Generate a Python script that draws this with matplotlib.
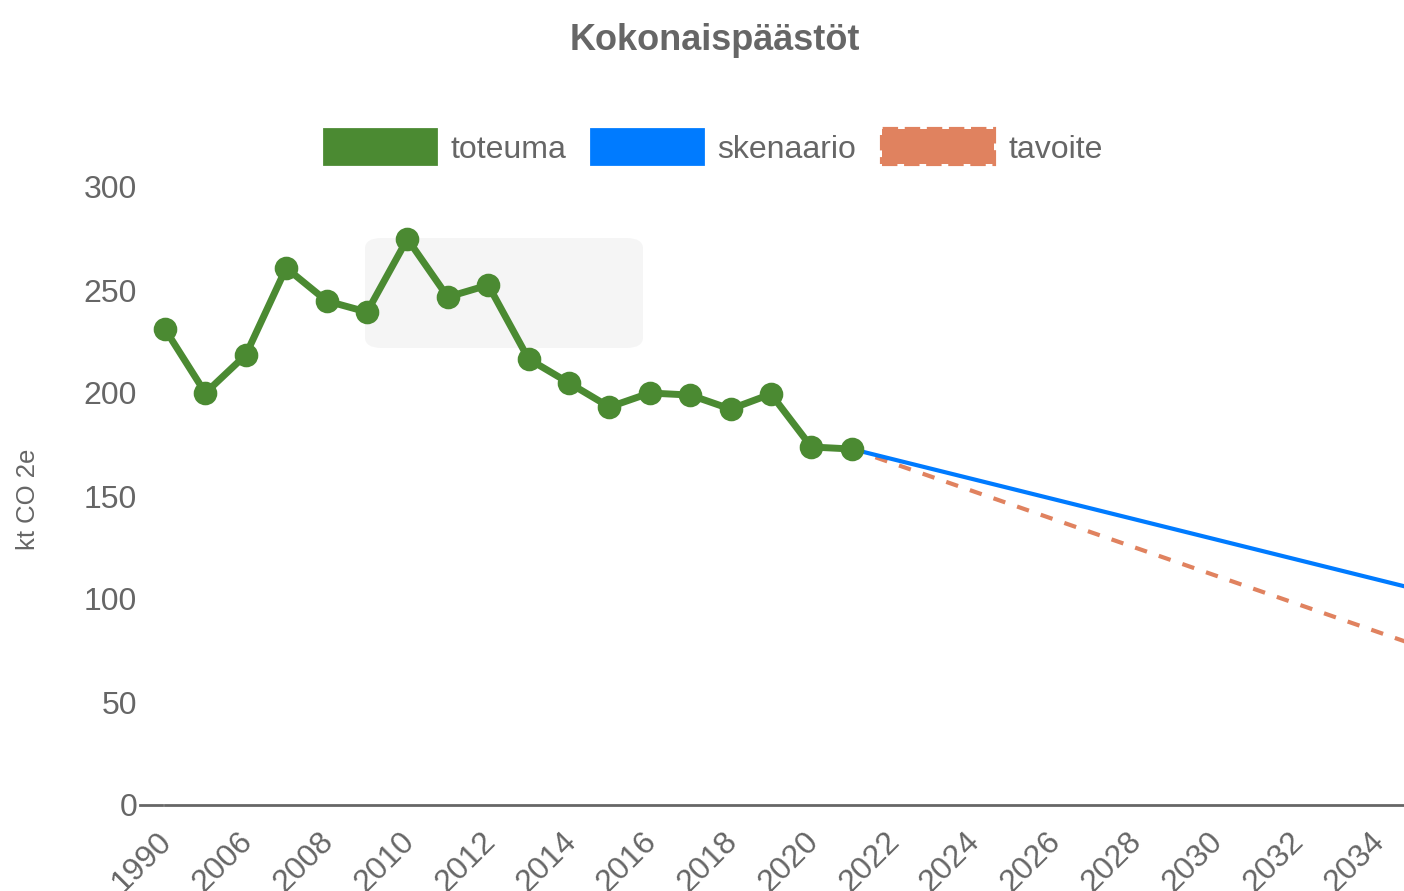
import matplotlib.pyplot as plt
from matplotlib.patches import Patch, FancyBboxPatch
import matplotlib.transforms as mtransforms

plt.rcParams['font.family'] = ['Liberation Sans', 'DejaVu Sans']

# x categories: 1990, then 2005 onwards
labels = ['1990'] + [str(y) for y in range(2005, 2036)]

toteuma_years = ['1990'] + [str(y) for y in range(2005, 2022)]
toteuma = [231, 200, 218.5, 260.7, 244.7, 239.3, 274.8, 246.6, 252.4, 216.5,
           204.9, 193.2, 200, 199, 192.2, 199.5, 173.8, 172.8]

skenaario_years = ['2021', '2035']
skenaario = [172.8, 104.6]

tavoite_years = ['2021', '2035']
tavoite = [172.8, 77.3]

green = '#4b8a32'
blue = '#007bff'
orange = '#e0825f'
grey = '#666666'

W, H = 1404, 891
fig = plt.figure(figsize=(W / 100, H / 100), dpi=100)
ax = fig.add_axes([165 / W, 1 - 805 / H, 1 - 165 / W, (805 - 187) / H])

idx = {lab: i for i, lab in enumerate(labels)}

# faded tooltip remnant behind the lines
tip = FancyBboxPatch((365 / W, 1 - 348 / H), (643 - 365) / W, (348 - 238) / H,
                     boxstyle='round,pad=0,rounding_size=0.012',
                     transform=fig.transFigure, facecolor='#f5f5f5',
                     edgecolor='none', zorder=0, clip_on=False)
ax.add_patch(tip)

ax.plot([idx[y] for y in tavoite_years], tavoite, color=orange, lw=3,
        dashes=(3, 3), zorder=2)
ax.plot([idx[y] for y in skenaario_years], skenaario, color=blue, lw=3, zorder=3)
ax.plot([idx[y] for y in toteuma_years], toteuma, color=green, lw=5,
        marker='o', markersize=14, markerfacecolor=green, markeredgecolor=green,
        markeredgewidth=3, zorder=4, clip_on=False)

ax.set_xlim(0, (W - 165) / 40.4)
ax.set_ylim(0, 300)
ax.patch.set_alpha(0)

for s in ['top', 'right', 'left']:
    ax.spines[s].set_visible(False)
ax.spines['bottom'].set_color(grey)
ax.spines['bottom'].set_linewidth(2)

ax.set_yticks(range(0, 301, 50))
ax.tick_params(axis='y', length=0, pad=20, labelsize=23, labelcolor=grey)
# small tick mark at zero
trans = mtransforms.blended_transform_factory(ax.transAxes, ax.transData)
ax.plot([-25 / (W - 165), -3 / (W - 165)], [0, 0], color=grey, lw=2,
        transform=trans, clip_on=False)

ticks = list(range(0, len(labels), 2))
ax.set_xticks(ticks)
ax.set_xticklabels([labels[i] for i in ticks], rotation=45, ha='right',
                   rotation_mode='anchor')
ax.tick_params(axis='x', length=0, pad=14, labelsize=23, labelcolor=grey)
shift = mtransforms.ScaledTranslation(-8 / 100, -2 / 100, fig.dpi_scale_trans)
for t in ax.get_xticklabels():
    t.set_transform(t.get_transform() + shift)

ax.set_ylabel('kt CO 2e', fontsize=18.5, color=grey)
ax.yaxis.set_label_coords(-125 / (W - 165), 0.495)

fig.text(0.509, 1 - 41 / H, 'Kokonaispäästöt', ha='center', va='center',
         fontsize=26, fontweight='bold', color=grey)

handles = [Patch(facecolor=green, edgecolor=green, lw=2, label='toteuma'),
           Patch(facecolor=blue, edgecolor=blue, lw=2, label='skenaario'),
           Patch(facecolor=orange, edgecolor=orange, lw=3, linestyle='--',
                 label='tavoite')]
leg = fig.legend(handles=handles, loc='center', bbox_to_anchor=(0.508, 1 - 147 / H),
                 ncol=3, frameon=False, fontsize=23, handlelength=3.5,
                 handleheight=1.3, handletextpad=0.45, columnspacing=0.8)
for t in leg.get_texts():
    t.set_color(grey)

fig.savefig('out.png', dpi=100)
